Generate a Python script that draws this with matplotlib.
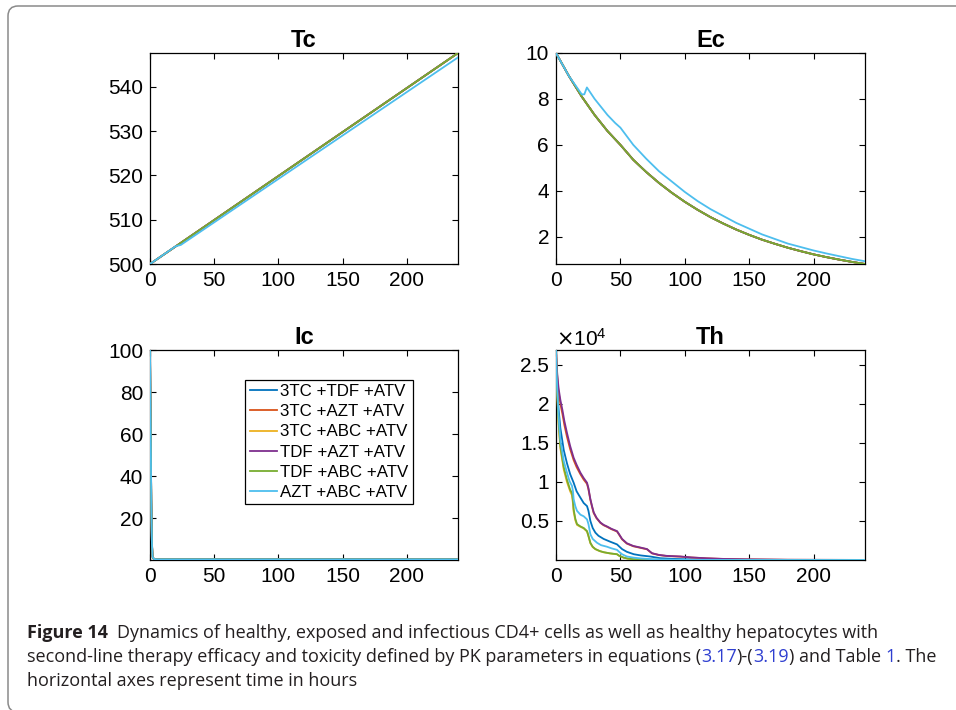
import matplotlib.pyplot as plt
import numpy as np
from matplotlib.patches import PathPatch
from matplotlib.path import Path

plt.rcParams['font.family'] = ['Liberation Sans', 'DejaVu Sans']

# Series names and MATLAB default colours
labels = ["3TC +TDF +ATV", "3TC +AZT +ATV", "3TC +ABC +ATV",
          "TDF +AZT +ATV", "TDF +ABC +ATV", "AZT +ABC +ATV"]
colors = ["#0072BD", "#D95319", "#EDB120", "#7E2F8E", "#77AC30", "#4DBEEE"]

############
# Tc data  #
############
t_tc = [0, 240]
tc_main = [500.0, 547.6]
t_tc_cyan = [0, 20, 24, 240]
tc_cyan = [500.0, 504.0, 504.3, 546.6]

############
# Ec data  #
############
t_ec = np.arange(0, 241, 10)
ec_main = [10.0, 9.0, 8.1, 7.3, 6.6, 6.0, 5.35, 4.82, 4.34, 3.91, 3.52, 3.17, 2.85,
           2.57, 2.31, 2.08, 1.87, 1.69, 1.52, 1.37, 1.23, 1.11, 1.0, 0.9, 0.81]
t_ec_cyan = [0, 10, 20, 22, 24, 30, 40, 46, 50, 60, 70, 80, 90, 100, 110, 120, 130,
             140, 150, 160, 170, 180, 190, 200, 210, 220, 230, 240]
ec_cyan = [10.0, 9.0, 8.2, 8.2, 8.5, 8.0, 7.3, 6.95, 6.75, 6.0, 5.4, 4.85, 4.4, 3.95,
           3.55, 3.2, 2.9, 2.6, 2.35, 2.1, 1.9, 1.7, 1.55, 1.4, 1.27, 1.15, 1.03, 0.93]

############
# Ic data  #
############
t_ic = [0, 0.5, 1, 1.5, 2, 3, 5, 240]
ic_all = [100, 62, 28, 8, 1.5, 0.5, 0.3, 0.3]

############
# Th data  #
############
t_th_azt = [0, 0.5, 1, 2, 3.4, 5, 6.5, 8.5, 11, 13.7, 16, 18.9, 21.5, 24.1, 25.2, 26.7,
            28, 29.3, 31.5, 34.5, 37, 39.6, 43, 47.4, 49, 51.3, 55, 60, 65.5, 70.7, 72.5,
            74.6, 80, 86, 96.6, 105, 117, 130, 150, 180, 240]
th_purple = [26900, 25000, 23800, 22000, 20500, 19200, 17800, 16300, 14600, 13100, 12200,
             11200, 10500, 9900, 9200, 7800, 6900, 6100, 5400, 4800, 4500, 4300, 4000, 3700,
             3300, 2700, 2150, 1800, 1600, 1400, 1150, 870, 650, 530, 450, 330, 220, 140, 80,
             30, 10]
th_orange = [26900, 24700, 23400, 21500, 20000, 18700, 17300, 15800, 14200, 12800, 11900,
             11000, 10300, 9750, 9050, 7700, 6800, 6000, 5350, 4750, 4450, 4250, 3950, 3650,
             3250, 2650, 2100, 1760, 1560, 1370, 1120, 850, 630, 510, 430, 320, 210, 130, 75,
             28, 8]
t_th_blue = [0, 0.5, 1, 2, 3.4, 6, 8.5, 11, 13.7, 16, 18.9, 21.5, 24.1, 25.2, 26.7, 28.5,
             30.6, 33, 37, 42, 47.4, 49, 51.3, 55, 60.4, 66, 73, 81, 90, 100, 120, 150, 240]
th_blue = [26900, 24000, 22300, 19300, 16900, 14100, 12400, 11000, 9900, 8800, 8000, 7300,
           6900, 6300, 5000, 4100, 3500, 3100, 2700, 2350, 2000, 1750, 1400, 1050, 740, 580,
           450, 230, 150, 100, 45, 20, 0]
t_th_cyan = [0, 0.5, 1, 2, 3.4, 6, 8.5, 10.5, 12.4, 13.2, 13.7, 15, 16.3, 19, 21.5, 24.1,
             25.2, 26.7, 28.5, 31.9, 35, 39.6, 43, 47.4, 49, 51.3, 55, 60.4, 66, 75, 90, 120, 240]
th_cyan = [26900, 23500, 21800, 18400, 15400, 12700, 11200, 10100, 9500, 8800, 7800, 6900,
           6300, 5800, 5600, 5200, 4600, 3300, 2700, 2200, 1900, 1700, 1500, 1300, 1050, 740,
           450, 300, 200, 100, 40, 10, 0]
t_th_abc = [0, 0.5, 1, 2, 3.4, 6, 8.5, 11, 12.4, 13.2, 13.7, 15, 16.3, 19, 21.5, 24.1, 25.2,
            26.7, 28.5, 30.6, 34, 37, 42, 47.4, 49, 52.6, 56, 60.4, 70, 80, 100, 240]
th_green = [26900, 23000, 21300, 17800, 14600, 11900, 10300, 9000, 8600, 7600, 6500, 5300,
            4600, 4300, 4100, 3700, 3100, 2200, 1700, 1400, 1150, 1000, 850, 740, 550, 300,
            170, 100, 50, 20, 5, 0]
th_yellow = [26900, 22800, 21000, 17400, 14300, 11600, 10000, 8800, 8300, 7200, 6200, 5100,
             4500, 4250, 4050, 3650, 3050, 2150, 1650, 1380, 1130, 990, 840, 730, 540, 290,
             160, 95, 45, 18, 5, 0]

##########
# Figure #
##########
W, H = 956, 710
fig = plt.figure(figsize=[W / 100, H / 100], dpi=100)

TICK_SIZE = 15
TITLE_SIZE = 17

def make_ax(left, top, right, bottom):
	ax = fig.add_axes([left / W, 1 - bottom / H, (right - left) / W, (bottom - top) / H])
	ax.tick_params(direction="in", top=True, right=True, length=4, width=0.8,
	               labelsize=TICK_SIZE, colors="black", pad=5)
	for s in ax.spines.values():
		s.set_linewidth(0.9)
	ax.set_xlim(0, 240)
	ax.set_xticks([0, 50, 100, 150, 200])
	return ax

LW = 1.3

# Tc
ax = make_ax(150, 53, 458, 264)
for i in range(5):
	ax.plot(t_tc, tc_main, color=colors[i], lw=LW, zorder=3)
ax.plot(t_tc_cyan, tc_cyan, color=colors[5], lw=LW, zorder=3)
ax.set_ylim(500, 547.6)
ax.set_yticks([500, 510, 520, 530, 540])
ax.set_title("Tc", fontsize=TITLE_SIZE, fontweight="bold", pad=4)

# Ec
ax = make_ax(556, 53, 865, 264)
for i in range(5):
	ax.plot(t_ec, ec_main, color=colors[i], lw=LW, zorder=3)
ax.plot(t_ec_cyan, ec_cyan, color=colors[5], lw=LW, zorder=3)
ax.set_ylim(0.81, 10)
ax.set_yticks([2, 4, 6, 8, 10])
ax.set_title("Ec", fontsize=TITLE_SIZE, fontweight="bold", pad=4)

# Ic
ax = make_ax(150, 350, 458, 560)
for i in range(6):
	ax.plot(t_ic, ic_all, color=colors[i], lw=LW, label=labels[i], zorder=3)
ax.set_ylim(0, 100)
ax.set_yticks([20, 40, 60, 80, 100])
ax.set_title("Ic", fontsize=TITLE_SIZE, fontweight="bold", pad=4)
leg = ax.legend(loc="upper left", bbox_to_anchor=(0.31, 0.857), fontsize=12.2,
                fancybox=False, edgecolor="black", framealpha=1,
                handlelength=1.6, handletextpad=0.2, borderpad=0.25,
                labelspacing=0.3, borderaxespad=0)
leg.get_frame().set_linewidth(0.9)

# Th
ax = make_ax(556, 350, 865, 560)
th_sets = [(t_th_blue, th_blue), (t_th_azt, th_orange), (t_th_abc, th_yellow),
           (t_th_azt, th_purple), (t_th_abc, th_green), (t_th_cyan, th_cyan)]
for i in range(6):
	ax.plot(th_sets[i][0], th_sets[i][1], color=colors[i], lw=LW, zorder=3)
ax.set_ylim(0, 26900)
ax.set_yticks([5000, 10000, 15000, 20000, 25000])
ax.set_yticklabels(["0.5", "1", "1.5", "2", "2.5"])
ax.text(0.0, 1.0, r"$\times\mathregular{10^4}$", transform=ax.transAxes,
        ha="left", va="bottom", fontsize=TICK_SIZE)
ax.set_title("Th", fontsize=TITLE_SIZE, fontweight="bold", pad=4)

###########
# Caption #
###########
# rounded frame: top and left edges, runs off the page on the right and bottom
bx, by_top, by_bot, r = 8, 6, 712, 10
pts = [(W + 20, by_top), (bx + r, by_top), (bx, by_top), (bx, by_top + r),
       (bx, by_bot - r), (bx, by_bot), (bx + r, by_bot), (W + 20, by_bot)]
codes = [Path.MOVETO, Path.LINETO, Path.CURVE3, Path.CURVE3,
         Path.LINETO, Path.CURVE3, Path.CURVE3, Path.LINETO]
frame = Path([(x / W, 1 - y / H) for x, y in pts], codes)
fig.add_artist(PathPatch(frame, transform=fig.transFigure, fill=False,
                         edgecolor="#8a8a8a", linewidth=1.1))

renderer = fig.canvas.get_renderer()
cap_font = ["Open Sans", "DejaVu Sans"]
text_col = "#231f20"
link_col = "#2f3fd0"

def text_width(s, size, weight="normal"):
	t = fig.text(0, 0, s + "|", fontsize=size, fontweight=weight, family=cap_font)
	w = t.get_window_extent(renderer).width
	t.remove()
	t = fig.text(0, 0, "|", fontsize=size, fontweight=weight, family=cap_font)
	w -= t.get_window_extent(renderer).width
	t.remove()
	return w

line2 = [("second-line therapy efficacy and toxicity defined by PK parameters in equations (", text_col),
         ("3.17", link_col), (")-(", text_col), ("3.19", link_col),
         (") and Table ", text_col), ("1", link_col), (". The", text_col)]

# fit caption size to the line span
full2 = "".join(p[0] for p in line2)
cap_size = 10 * (940 - 27) / text_width(full2, 10)

def put_line(x0, y, pieces):
	prefix = ""
	for s, c in pieces:
		x = x0 + (text_width(prefix, cap_size) if prefix else 0)
		fig.text(x / W, 1 - y / H, s, color=c, fontsize=cap_size, family=cap_font, va="baseline")
		prefix += s

x0 = 27
fig.text(x0 / W, 1 - 638 / H, "Figure 14", fontsize=cap_size, fontweight="bold",
         color=text_col, family=cap_font, va="baseline")
bw = text_width("Figure 14", cap_size, "bold") + text_width("  ", cap_size)
put_line(x0 + bw, 638, [("Dynamics of healthy, exposed and infectious CD4+ cells as well as healthy hepatocytes with", text_col)])
put_line(x0, 662, line2)
put_line(x0, 686, [("horizontal axes represent time in hours", text_col)])

plt.savefig("out.png", dpi=100)
